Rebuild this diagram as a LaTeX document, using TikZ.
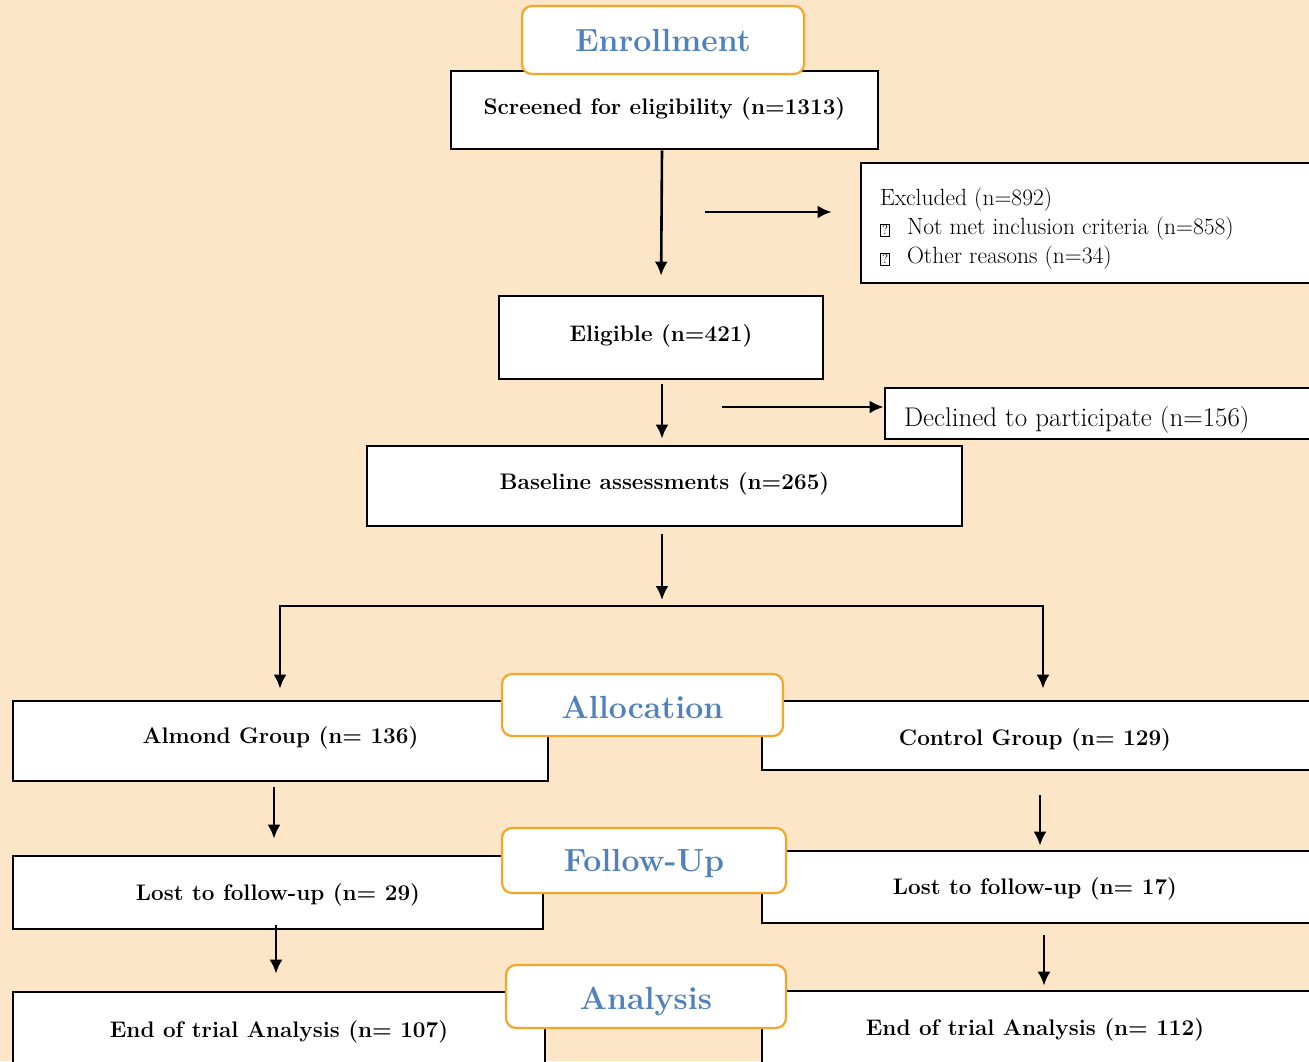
\documentclass[tikz,border=0pt]{standalone}
\usepackage{fontspec}
\usetikzlibrary{arrows.meta}
\definecolor{bgC}{RGB}{253,230,200}
\definecolor{orC}{RGB}{245,166,40}
\definecolor{blC}{RGB}{79,129,189}
\newcommand\qmbox{\setlength{\fboxsep}{1.2pt}\setlength{\fboxrule}{0.8pt}\fbox{\fontsize{13}{13}\selectfont ?}}
\newcommand\shiftv[2]{\raisebox{#1}[\height][\depth]{#2}}
\begin{document}
\begin{tikzpicture}[x=1pt,y=-1pt,
  box/.style={draw=black,line width=2.7pt,fill=white,inner sep=0pt,
    font=\fontsize{22.5}{26}\selectfont\bfseries},
  sidebox/.style={draw=black,line width=2.7pt,fill=white,inner xsep=19pt,inner ysep=0pt,
    font=\fontsize{23.5}{29}\selectfont},
  title/.style={draw=orC,line width=2.2pt,fill=white,rounded corners=10pt,inner sep=0pt,
    text=blC,font=\fontsize{32}{36}\selectfont\bfseries},
  arr/.style={line width=2.6pt,-{Latex[length=14pt,width=13pt]}},
  conn/.style={line width=2.6pt,line cap=rect}]
\useasboundingbox (0,0) rectangle (1309,1061);
\fill[bgC] (0,0) rectangle (1309,1061);
\clip (0,0) rectangle (1309,1061);

% main column
\node[box,minimum width=427pt,minimum height=78pt] (screened) at (664.5,110) {\shiftv{1pt}{Screened for eligibility (n=1313)}};
\node[title,minimum width=282pt,minimum height=68pt] (enroll) at (663,40) {Enrollment};
\node[sidebox,minimum width=459pt,minimum height=120pt] (excluded) at (1090.5,223)
  {\shiftv{-6pt}{\parbox{421pt}{\raggedright Excluded (n=892)\\\qmbox\hspace{17pt}Not met inclusion criteria (n=858)\\\qmbox\hspace{17pt}Other reasons (n=34)}}};
\node[box,minimum width=324pt,minimum height=83pt] (eligible) at (661,337.5) {\shiftv{2pt}{Eligible (n=421)}};
\node[sidebox,minimum width=435pt,minimum height=51pt,font=\fontsize{27}{30}\selectfont] (declined) at (1102.5,413.5)
  {\shiftv{-6pt}{\parbox{397pt}{\raggedright Declined to participate (n=156)}}};
\node[box,minimum width=595pt,minimum height=80pt] (baseline) at (664.5,486) {\shiftv{2pt}{Baseline assessments (n=265)}};

% arms
\node[box,minimum width=535pt,minimum height=80pt] (almond) at (280.5,741) {\shiftv{3pt}{Almond Group (n= 136)}};
\node[box,minimum width=558pt,minimum height=69pt] (control) at (1041,735.5) {\shiftv{-4pt}{Control Group (n= 129)}\hspace*{12pt}};
\node[title,minimum width=281pt,minimum height=62pt] (alloc) at (642.5,705) {\shiftv{-2pt}{Allocation}};

\node[box,minimum width=530pt,minimum height=73pt] (lostL) at (278,892.5) {\shiftv{-2pt}{Lost to follow-up (n= 29)}};
\node[box,minimum width=558pt,minimum height=72pt] (lostR) at (1041,887) {\shiftv{-2pt}{Lost to follow-up (n= 17)}\hspace*{12pt}};
\node[title,minimum width=284pt,minimum height=65pt] (follow) at (644,860.5) {\shiftv{-3pt}{Follow-Up}};

\node[box,minimum width=532pt,minimum height=83pt] (endL) at (279,1033.5) {\shiftv{2pt}{End of trial Analysis (n= 107)}};
\node[box,minimum width=558pt,minimum height=84pt] (endR) at (1041,1033) {\shiftv{3pt}{End of trial Analysis (n= 112)}\hspace*{12pt}};
\node[title,minimum width=280pt,minimum height=63pt] (analysis) at (646,996.5) {\shiftv{-5pt}{Analysis}};

% connectors
\draw[arr,shorten >=19pt] ([xshift=-2.5pt]screened.south) -- (eligible.north);
\coordinate (exs) at (705,212);
\draw[arr,shorten >=28pt] (exs) -- (exs -| excluded.west);
\coordinate (es) at (662,379);
\draw[arr,shorten <=5pt,shorten >=6pt] (es) -- (es |- baseline.north);
\coordinate (dcs) at (722,407);
\draw[arr] (dcs) -- (dcs -| declined.west);
\coordinate (split) at (662,606);
\draw[arr,shorten <=7pt,shorten >=6pt] (split |- baseline.south) -- (split);
\coordinate (bl) at (280,606);
\coordinate (br) at (1043,606);
\draw[conn] (bl) -- (br);
\draw[arr,shorten >=11pt] (bl) -- (bl |- almond.north);
\draw[arr,shorten >=11pt] (br) -- (br |- control.north);
\coordinate (al) at (274,781);
\draw[arr,shorten <=6pt,shorten >=16pt] (al) -- (al |- lostL.north);
\coordinate (cr) at (1040,770);
\draw[arr,shorten <=25pt,shorten >=4pt] (cr) -- (cr |- lostR.north);
\coordinate (ll) at (276,929);
\draw[arr,shorten <=-4pt,shorten >=17pt] (ll) -- (ll |- endL.north);
\coordinate (lr) at (1044,923);
\draw[arr,shorten <=12pt,shorten >=4pt] (lr) -- (lr |- endR.north);
\end{tikzpicture}
\end{document}
